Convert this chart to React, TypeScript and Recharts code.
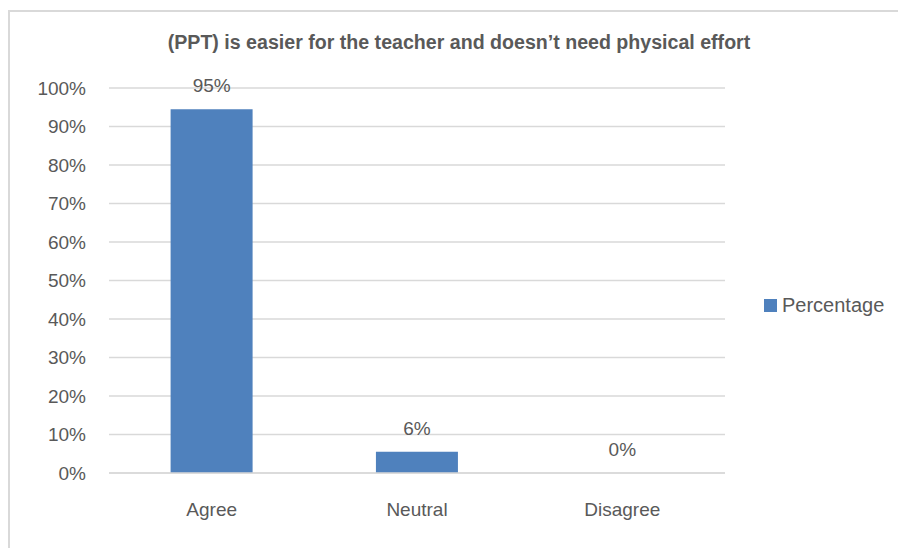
import React from 'react'
import { ComposedChart, Bar, Line, XAxis, YAxis, CartesianGrid, LabelList } from 'recharts'

const categories = ['Agree', 'Neutral', 'Disagree']
const percentages = [94.5, 5.5, 0]
const yTicks = [0, 10, 20, 30, 40, 50, 60, 70, 80, 90, 100]
const seriesName = 'Percentage'

const data = categories.map((name, i) => ({ name, value: percentages[i] }))

const FONT = '"Liberation Sans", Arial, sans-serif'
const TEXT = '#595959'
const BLUE = '#4F81BD'

export default function App() {
  return (
    <div style={{ position: 'absolute', left: 0, top: 0, width: 898, height: 548, background: '#fff', overflow: 'hidden', fontFamily: FONT }}>
      {/* chart frame, cut off at the right and bottom */}
      <div style={{ position: 'absolute', left: 8, top: 10, width: 940, height: 600, border: '2px solid #d9d9d9', boxSizing: 'border-box' }} />
      <div style={{ position: 'absolute', left: 0, top: 31, width: 918, textAlign: 'center', fontSize: 19.6, fontWeight: 'bold', color: TEXT }}>
        (PPT) is easier for the teacher and doesn’t need physical effort
      </div>
      <div style={{ position: 'absolute', left: 0, top: 0 }}>
        <ComposedChart width={898} height={548} data={data} margin={{ top: 88, right: 173, bottom: 30, left: 0 }} barCategoryGap="30%">
          <CartesianGrid vertical={false} stroke="#d9d9d9" strokeWidth={1.5} />
          <XAxis
            dataKey="name"
            axisLine={{ stroke: '#d9d9d9', strokeWidth: 1.5 }}
            tickLine={false}
            tickSize={0}
            tickMargin={30}
            height={45}
            tick={{ fill: TEXT, fontSize: 19, fontFamily: FONT }}
          />
          <YAxis
            domain={[0, 100]}
            ticks={yTicks}
            width={109}
            axisLine={false}
            tickLine={false}
            tickSize={0}
            tickMargin={23}
            tickFormatter={(v) => `${v}%`}
            tick={{ fill: TEXT, fontSize: 19, fontFamily: FONT }}
          />
          <Bar dataKey="value" name={seriesName} fill={BLUE} isAnimationActive={false} />
          {/* invisible series that carries the data labels, so the 0% label shows too */}
          <Line dataKey="value" stroke="none" dot={false} activeDot={false} legendType="none" isAnimationActive={false}>
            <LabelList
              dataKey="value"
              position="top"
              offset={17}
              fill={TEXT}
              fontSize={19}
              fontFamily={FONT}
              formatter={(v: number) => `${Math.round(v)}%`}
            />
          </Line>
        </ComposedChart>
      </div>
      {/* legend */}
      <div style={{ position: 'absolute', left: 764, top: 294, display: 'flex', alignItems: 'center', fontSize: 20, color: TEXT, whiteSpace: 'nowrap' }}>
        <span style={{ display: 'inline-block', width: 13, height: 13, background: BLUE, marginRight: 5 }} />
        <span>{seriesName}</span>
      </div>
    </div>
  )
}
